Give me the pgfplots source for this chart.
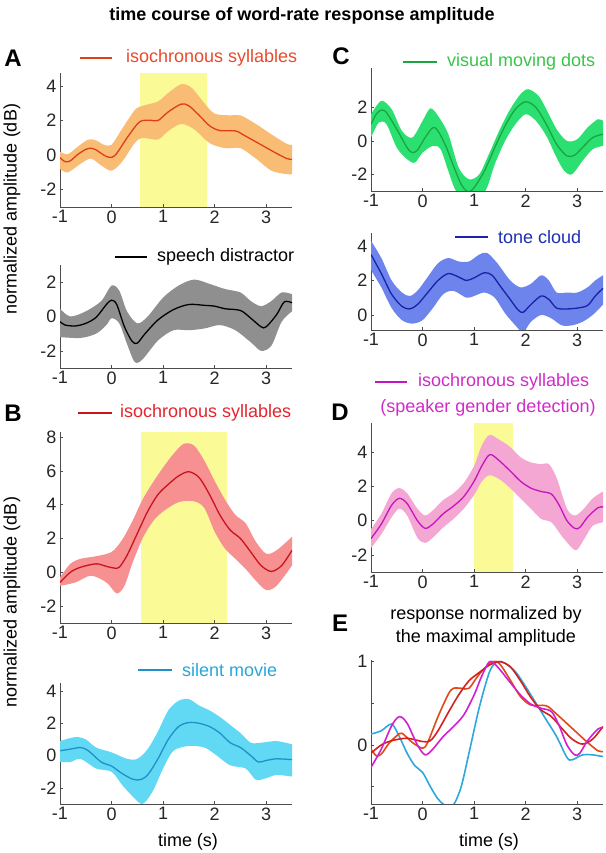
\documentclass[border=0pt]{standalone}
\usepackage{pgfplots}
\pgfplotsset{compat=1.18}
\usepgfplotslibrary{fillbetween}
\usepackage{fontspec}
\setmainfont{Liberation Sans}
\newcommand\fs{\fontsize{18}{21}\selectfont}
\newcommand\fl{\fontsize{24}{27}\selectfont\bfseries}
\definecolor{ybox}{HTML}{FAFA96}
\definecolor{aband}{HTML}{F8BC74}
\definecolor{aline}{HTML}{DE3F17}
\definecolor{atext}{HTML}{E84A2A}
\definecolor{gband}{HTML}{8F8F8F}
\definecolor{bband}{HTML}{F79090}
\definecolor{bline}{HTML}{C8141E}
\definecolor{btext}{HTML}{E2252E}
\definecolor{cband}{HTML}{62D9F4}
\definecolor{cline}{HTML}{2090C8}
\definecolor{ctext}{HTML}{26A7DA}
\definecolor{vband}{HTML}{2BE070}
\definecolor{vline}{HTML}{1BA540}
\definecolor{vtext}{HTML}{36C54A}
\definecolor{tband}{HTML}{6C84EC}
\definecolor{tline}{HTML}{1A22A8}
\definecolor{ttext}{HTML}{1E2FB0}
\definecolor{pband}{HTML}{F5A7D3}
\definecolor{pline}{HTML}{C515C0}
\definecolor{ptext}{HTML}{D02BC8}
\definecolor{ecyan}{HTML}{2EA8DC}
\definecolor{ered}{HTML}{D42020}
\definecolor{eorange}{HTML}{DF4A18}
\definecolor{emag}{HTML}{D020D0}
\pgfplotsset{
  panel/.style={scale only axis, width=232pt, anchor=south west,
    xmin=-1, xmax=3.5, axis x line=bottom, axis y line=left,
    axis line style={-, draw=black!70, line width=0.8pt},
    tick align=inside, major tick length=3pt,
    tick style={draw=black!70, line width=0.6pt},
    xtick={-1,0,1,2,3}, xticklabels={-1,0,1,2,3},
    tick label style={font=\fs, text=black!85}},
  mean/.style={smooth, line width=1.3pt, no marks},
  bnd/.style={smooth, draw=none, no marks},
  yb/.style={fill=ybox, draw=none, on layer=axis background},
}
\begin{document}
\begin{tikzpicture}
% ---------- A1
\begin{axis}[panel, at={(60pt,646pt)}, height=134pt, ymin=-3, ymax=4.75,
  ytick={-2,0,2,4}, yticklabels={-2,0,2,4}]
\addplot[yb] coordinates {(0.55,-3) (1.85,-3) (1.85,4.75) (0.55,4.75)} -- cycle;
\addplot[bnd, name path=u] coordinates {(-1,0.2) (-0.85,0.05) (-0.65,0.5) (-0.45,0.9) (-0.3,0.85) (-0.15,0.6) (0,0.6) (0.2,1.5) (0.45,2.6) (0.6,2.85) (0.9,3.1) (1.1,3.6) (1.35,4.1) (1.55,3.9) (1.8,3.0) (2.0,2.4) (2.3,2.3) (2.5,2.3) (2.8,1.8) (3.1,1.2) (3.4,0.65) (3.5,0.6)};
\addplot[bnd, name path=l] coordinates {(-1,-0.8) (-0.85,-1.0) (-0.6,-0.5) (-0.4,-0.2) (-0.2,-0.6) (0,-0.9) (0.2,-0.4) (0.45,0.7) (0.6,1.0) (0.9,0.9) (1.1,1.4) (1.35,1.8) (1.6,1.5) (1.9,0.7) (2.2,0.4) (2.5,0.4) (2.8,-0.2) (3.1,-0.9) (3.4,-1.1) (3.5,-1.1)};
\addplot[aband] fill between[of=u and l];
\addplot[mean, aline] coordinates {(-1,-0.15) (-0.9,-0.38) (-0.8,-0.33) (-0.65,0.05) (-0.5,0.33) (-0.4,0.4) (-0.3,0.3) (-0.2,0.1) (-0.1,-0.08) (0,-0.13) (0.1,0.1) (0.3,1.0) (0.5,1.8) (0.6,2.0) (0.75,2.02) (0.9,2.0) (1.1,2.5) (1.35,2.95) (1.5,2.85) (1.7,2.3) (1.9,1.7) (2.1,1.42) (2.4,1.4) (2.6,1.1) (2.9,0.6) (3.2,0.1) (3.4,-0.2) (3.5,-0.25)};
\end{axis}
% ---------- A2
\begin{axis}[panel, at={(60pt,485pt)}, height=103pt, ymin=-3, ymax=3,
  ytick={-2,0,2}, yticklabels={-2,0,2}]
\addplot[bnd, name path=u] coordinates {(-1,0.45) (-0.8,0.0) (-0.5,0.3) (-0.2,0.9) (0,1.8) (0.15,1.5) (0.3,0.3) (0.5,-0.4) (0.7,0.0) (1.0,1.1) (1.3,1.8) (1.6,2.15) (1.9,1.9) (2.2,1.6) (2.5,1.4) (2.7,0.9) (2.9,0.6) (3.1,0.9) (3.3,1.4) (3.5,1.3)};
\addplot[bnd, name path=l] coordinates {(-1,-1.2) (-0.6,-1.25) (-0.3,-1.0) (-0.1,-0.5) (0,-0.1) (0.15,-0.4) (0.3,-1.6) (0.45,-2.65) (0.6,-2.5) (0.9,-1.4) (1.2,-0.8) (1.5,-0.8) (1.8,-0.7) (2.1,-0.5) (2.4,-0.8) (2.7,-1.5) (2.9,-2.0) (3.1,-1.7) (3.3,-0.3) (3.5,0.3)};
\addplot[gband] fill between[of=u and l];
\addplot[mean, black] coordinates {(-1,-0.3) (-0.9,-0.5) (-0.7,-0.55) (-0.5,-0.4) (-0.3,-0.05) (-0.1,0.7) (0,0.95) (0.1,0.7) (0.25,-0.6) (0.4,-1.45) (0.5,-1.55) (0.65,-1.0) (0.9,-0.2) (1.2,0.4) (1.5,0.7) (1.8,0.65) (2.0,0.6) (2.2,0.45) (2.5,0.35) (2.7,-0.1) (2.9,-0.6) (3.0,-0.6) (3.2,0.1) (3.35,0.85) (3.5,0.8)};
\end{axis}
% ---------- B1
\begin{axis}[panel, at={(60pt,230pt)}, height=191pt, ymin=-3, ymax=8.3,
  ytick={-2,0,2,4,6,8}, yticklabels={-2,0,2,4,6,8}]
\addplot[yb] coordinates {(0.58,-3) (2.24,-3) (2.24,8.3) (0.58,8.3)} -- cycle;
\addplot[bnd, name path=u] coordinates {(-1,-0.3) (-0.8,0.5) (-0.6,0.8) (-0.3,0.95) (0,1.2) (0.2,1.9) (0.4,3.0) (0.6,4.3) (0.8,5.3) (1.0,6.2) (1.2,7.0) (1.4,7.6) (1.6,7.5) (1.8,6.6) (2.0,5.4) (2.2,4.3) (2.4,3.4) (2.6,2.9) (2.8,1.8) (3.0,1.1) (3.2,1.3) (3.5,2.1)};
\addplot[bnd, name path=l] coordinates {(-1,-0.8) (-0.7,-0.6) (-0.4,-0.2) (-0.1,-0.6) (0.1,-1.25) (0.25,-0.8) (0.4,0.5) (0.6,2.0) (0.8,3.0) (1.0,3.6) (1.3,4.15) (1.6,4.2) (1.8,3.8) (2.0,2.4) (2.2,1.4) (2.4,0.8) (2.6,0.2) (2.8,-0.5) (3.0,-1.05) (3.2,-0.8) (3.5,0.4)};
\addplot[bband] fill between[of=u and l];
\addplot[mean, bline] coordinates {(-1,-0.6) (-0.8,0.0) (-0.6,0.3) (-0.3,0.5) (-0.1,0.35) (0.05,0.25) (0.15,0.3) (0.3,1.0) (0.5,2.3) (0.7,3.6) (0.9,4.6) (1.1,5.2) (1.3,5.7) (1.5,5.95) (1.7,5.6) (1.9,4.6) (2.1,3.4) (2.3,2.5) (2.5,2.0) (2.7,1.2) (2.9,0.4) (3.1,0.05) (3.3,0.4) (3.5,1.3)};
\end{axis}
% ---------- B2
\begin{axis}[panel, at={(60pt,49pt)}, height=121pt, ymin=-3, ymax=4.5,
  ytick={-2,0,2,4}, yticklabels={-2,0,2,4}]
\addplot[bnd, name path=u] coordinates {(-1,0.9) (-0.7,1.15) (-0.5,1.0) (-0.3,0.5) (0,0.2) (0.3,-0.2) (0.5,-0.2) (0.7,0.4) (0.9,1.5) (1.1,2.8) (1.3,3.4) (1.5,3.5) (1.7,3.1) (1.9,2.8) (2.1,2.4) (2.3,1.9) (2.5,1.4) (2.7,0.8) (2.9,0.8) (3.2,0.9) (3.5,0.7)};
\addplot[bnd, name path=l] coordinates {(-1,-0.4) (-0.8,-0.4) (-0.6,-0.2) (-0.3,-0.8) (0,-1.0) (0.2,-1.8) (0.4,-2.5) (0.6,-3.0) (0.8,-2.2) (1.0,-0.8) (1.2,0.3) (1.5,0.6) (1.8,0.5) (2.0,0.1) (2.3,-0.6) (2.6,-0.8) (2.8,-1.5) (3.0,-1.4) (3.2,-1.2) (3.5,-1.3)};
\addplot[cband] fill between[of=u and l];
\addplot[mean, cline] coordinates {(-1,0.3) (-0.8,0.4) (-0.6,0.5) (-0.45,0.3) (-0.2,-0.4) (0,-0.65) (0.2,-1.1) (0.4,-1.45) (0.55,-1.5) (0.7,-1.2) (0.9,-0.2) (1.1,1.0) (1.3,1.8) (1.5,2.05) (1.7,2.0) (1.9,1.8) (2.1,1.4) (2.3,0.8) (2.5,0.5) (2.7,0.0) (2.85,-0.4) (3.0,-0.3) (3.2,-0.2) (3.5,-0.25)};
\end{axis}
% ---------- C1
\begin{axis}[panel, at={(371pt,662pt)}, height=123pt, ymin=-3, ymax=4.37,
  ytick={-2,0,2}, yticklabels={-2,0,2}]
\addplot[bnd, name path=u] coordinates {(-1,1.6) (-0.8,2.4) (-0.6,1.9) (-0.4,0.6) (-0.2,0.2) (0.0,1.2) (0.15,1.95) (0.3,1.5) (0.5,0.4) (0.7,-1.6) (0.9,-2.3) (1.1,-2.0) (1.3,-0.7) (1.5,0.7) (1.7,1.9) (1.9,2.8) (2.05,3.1) (2.25,2.7) (2.4,1.9) (2.6,0.7) (2.8,0.0) (3.0,0.1) (3.2,0.8) (3.4,1.3) (3.5,1.2)};
\addplot[bnd, name path=l] coordinates {(-1,0.2) (-0.85,1.1) (-0.7,1.0) (-0.5,-0.4) (-0.3,-1.1) (-0.15,-1.3) (0.0,-0.7) (0.2,-0.3) (0.35,-0.5) (0.5,-1.8) (0.65,-3.0) (0.9,-3.6) (1.1,-3.5) (1.25,-2.8) (1.4,-1.4) (1.6,0.0) (1.8,1.0) (2.0,1.6) (2.2,1.2) (2.4,0.3) (2.6,-1.0) (2.75,-1.8) (2.9,-2.0) (3.1,-1.2) (3.3,-0.5) (3.5,-0.3)};
\addplot[vband] fill between[of=u and l];
\addplot[mean, vline] coordinates {(-1,1.0) (-0.9,1.6) (-0.8,1.85) (-0.7,1.7) (-0.5,0.7) (-0.3,-0.4) (-0.2,-0.7) (-0.1,-0.55) (0.05,0.2) (0.2,0.8) (0.3,0.6) (0.45,-0.3) (0.6,-1.5) (0.75,-2.6) (0.88,-3.05) (1.0,-2.8) (1.2,-1.8) (1.4,-0.4) (1.6,0.9) (1.8,1.9) (2.0,2.35) (2.2,2.0) (2.4,1.0) (2.6,-0.2) (2.8,-0.9) (2.95,-0.85) (3.1,-0.4) (3.3,0.2) (3.5,0.4)};
\end{axis}
% ---------- C2
\begin{axis}[panel, at={(371pt,523pt)}, height=97pt, ymin=-0.87, ymax=4.75,
  ytick={0,2,4}, yticklabels={0,2,4}]
\addplot[bnd, name path=u] coordinates {(-1,4.3) (-0.8,3.3) (-0.6,2.0) (-0.4,1.3) (-0.25,1.1) (-0.1,1.4) (0.1,2.2) (0.3,3.0) (0.5,3.3) (0.7,3.1) (0.9,3.1) (1.1,3.5) (1.25,3.6) (1.45,3.0) (1.7,2.0) (1.9,1.6) (2.1,1.8) (2.3,2.3) (2.45,2.0) (2.6,1.3) (2.8,1.3) (3.0,1.3) (3.2,1.6) (3.35,2.0) (3.5,2.3)};
\addplot[bnd, name path=l] coordinates {(-1,2.6) (-0.8,1.6) (-0.6,0.4) (-0.4,-0.3) (-0.2,-0.5) (0.0,-0.3) (0.2,0.4) (0.4,1.2) (0.6,1.4) (0.85,1.0) (1.0,1.1) (1.2,1.3) (1.4,1.0) (1.6,0.1) (1.8,-0.6) (1.95,-1.0) (2.1,-0.4) (2.3,0.0) (2.5,-0.2) (2.7,-0.6) (2.9,-0.6) (3.1,-0.4) (3.3,0.0) (3.5,0.6)};
\addplot[tband] fill between[of=u and l];
\addplot[mean, tline] coordinates {(-1,3.5) (-0.8,2.4) (-0.6,1.2) (-0.4,0.5) (-0.25,0.35) (-0.1,0.6) (0.1,1.3) (0.3,2.0) (0.5,2.4) (0.7,2.2) (0.85,2.0) (1.0,2.15) (1.2,2.45) (1.35,2.3) (1.5,1.7) (1.7,0.9) (1.85,0.3) (1.95,0.15) (2.1,0.6) (2.3,1.1) (2.45,0.9) (2.6,0.4) (2.8,0.35) (3.0,0.4) (3.2,0.55) (3.35,1.1) (3.5,1.55)};
\end{axis}
% ---------- D
\begin{axis}[panel, at={(371pt,281pt)}, height=149pt, ymin=-3, ymax=5.7,
  ytick={-2,0,2,4}, yticklabels={-2,0,2,4}]
\addplot[yb] coordinates {(1.0,-3) (1.75,-3) (1.75,5.7) (1.0,5.7)} -- cycle;
\addplot[bnd, name path=u] coordinates {(-1,-0.5) (-0.8,0.4) (-0.6,1.6) (-0.45,1.9) (-0.3,1.6) (-0.1,0.7) (0.05,0.3) (0.2,0.6) (0.4,1.2) (0.6,1.6) (0.8,2.2) (1.0,3.2) (1.15,4.4) (1.3,5.0) (1.5,4.7) (1.7,4.3) (1.9,3.7) (2.1,3.4) (2.3,3.3) (2.45,3.3) (2.6,2.5) (2.8,0.7) (2.95,0.3) (3.1,0.6) (3.3,1.3) (3.5,1.7)};
\addplot[bnd, name path=l] coordinates {(-1,-1.6) (-0.8,-0.8) (-0.6,0.2) (-0.45,0.7) (-0.3,0.3) (-0.1,-1.0) (0.05,-1.3) (0.2,-1.0) (0.4,-0.4) (0.6,0.1) (0.8,0.7) (1.0,1.5) (1.15,2.3) (1.3,2.65) (1.5,2.4) (1.7,1.9) (1.9,1.3) (2.1,0.7) (2.3,0.1) (2.5,-0.1) (2.7,-0.9) (2.9,-1.6) (3.0,-1.7) (3.15,-1.0) (3.3,-0.3) (3.5,-0.1)};
\addplot[pband] fill between[of=u and l];
\addplot[mean, pline] coordinates {(-1,-1.05) (-0.8,-0.2) (-0.6,0.9) (-0.45,1.3) (-0.3,1.0) (-0.1,0.0) (0.05,-0.45) (0.2,-0.2) (0.4,0.4) (0.6,0.85) (0.8,1.4) (1.0,2.3) (1.15,3.2) (1.3,3.85) (1.45,3.6) (1.7,2.9) (1.9,2.3) (2.1,1.9) (2.3,1.7) (2.5,1.55) (2.65,0.9) (2.8,0.0) (2.95,-0.45) (3.05,-0.4) (3.2,0.2) (3.4,0.75) (3.5,0.8)};
\end{axis}
% ---------- E
\begin{axis}[panel, at={(371pt,49pt)}, height=144pt, ymin=-0.71, ymax=1.02,
  ytick={-0.5,0,0.5,1}, yticklabels={,0,,1}]
\addplot[mean, ecyan, line width=1.6pt] coordinates {(-1,0.13) (-0.8,0.17) (-0.6,0.25) (-0.45,0.1) (-0.3,-0.1) (-0.15,-0.25) (0,-0.33) (0.15,-0.5) (0.3,-0.65) (0.45,-0.73) (0.6,-0.72) (0.75,-0.5) (0.9,-0.1) (1.1,0.45) (1.3,0.88) (1.45,1.0) (1.6,0.98) (1.8,0.88) (2.0,0.7) (2.2,0.5) (2.4,0.3) (2.6,0.1) (2.8,-0.15) (2.9,-0.18) (3.1,-0.12) (3.3,-0.12) (3.5,-0.14)};
\addplot[mean, eorange, line width=1.6pt] coordinates {(-1,-0.05) (-0.9,-0.13) (-0.8,-0.11) (-0.65,0.02) (-0.5,0.11) (-0.4,0.14) (-0.2,0.03) (0,-0.04) (0.1,0.03) (0.3,0.34) (0.5,0.61) (0.6,0.68) (0.75,0.68) (0.9,0.68) (1.1,0.85) (1.35,1.0) (1.5,0.97) (1.7,0.78) (1.9,0.58) (2.1,0.48) (2.4,0.47) (2.6,0.37) (2.9,0.2) (3.2,0.03) (3.4,-0.07) (3.5,-0.08)};
\addplot[mean, ered, line width=1.6pt] coordinates {(-1,-0.1) (-0.8,0.0) (-0.6,0.05) (-0.3,0.08) (0,0.04) (0.15,0.05) (0.3,0.17) (0.5,0.39) (0.7,0.6) (0.9,0.77) (1.1,0.87) (1.3,0.96) (1.5,1.0) (1.7,0.94) (1.9,0.77) (2.1,0.57) (2.3,0.42) (2.5,0.34) (2.7,0.2) (2.9,0.07) (3.1,0.01) (3.3,0.07) (3.5,0.22)};
\addplot[mean, emag, line width=1.6pt] coordinates {(-1,-0.27) (-0.8,-0.05) (-0.6,0.23) (-0.45,0.34) (-0.3,0.26) (-0.1,0.0) (0.05,-0.12) (0.2,-0.05) (0.4,0.1) (0.6,0.22) (0.8,0.36) (1.0,0.6) (1.15,0.83) (1.3,1.0) (1.45,0.94) (1.7,0.75) (1.9,0.6) (2.1,0.49) (2.3,0.44) (2.5,0.4) (2.65,0.23) (2.8,0.0) (2.95,-0.12) (3.05,-0.1) (3.2,0.05) (3.4,0.19) (3.5,0.21)};
\end{axis}
% ---------- texts
\node[font=\fs\bfseries] at (302pt,837pt) {time course of word-rate response amplitude};
\node[font=\fl] at (13pt,795pt) {A};
\node[font=\fl] at (13pt,440pt) {B};
\node[font=\fl] at (341pt,797pt) {C};
\node[font=\fl] at (340pt,441pt) {D};
\node[font=\fl] at (340pt,230pt) {E};
\node[font=\fs, rotate=90] at (12pt,644pt) {normalized amplitude (dB)};
\node[font=\fs, rotate=90] at (12pt,251pt) {normalized amplitude (dB)};
\node[font=\fs] at (188pt,11pt) {time (s)};
\node[font=\fs] at (489pt,11pt) {time (s)};
% legends
\draw[aline, line width=1.6pt] (80pt,795pt) -- (112pt,795pt);
\node[font=\fs, text=atext, anchor=west, inner sep=0] at (126pt,795pt) {isochronous syllables};
\draw[black, line width=1.6pt] (115pt,596pt) -- (147pt,596pt);
\node[font=\fs, anchor=west, inner sep=0] at (157pt,596pt) {speech distractor};
\draw[bline, line width=1.6pt] (78pt,440pt) -- (112pt,440pt);
\node[font=\fs, text=btext, anchor=west, inner sep=0] at (120pt,440pt) {isochronous syllables};
\draw[cline, line width=1.6pt] (138pt,183pt) -- (172pt,183pt);
\node[font=\fs, text=ctext, anchor=west, inner sep=0] at (182pt,183pt) {silent movie};
\draw[vline, line width=1.6pt] (403pt,791pt) -- (437pt,791pt);
\node[font=\fs, text=vtext, anchor=west, inner sep=0] at (447pt,791pt) {visual moving dots};
\draw[tline, line width=1.6pt] (455pt,616pt) -- (488pt,616pt);
\node[font=\fs, text=ttext, anchor=west, inner sep=0] at (498pt,616pt) {tone cloud};
\draw[pline, line width=1.6pt] (375pt,471pt) -- (407pt,471pt);
\node[font=\fs, text=ptext, anchor=west, inner sep=0] at (418pt,471pt) {isochronous syllables};
\node[font=\fs, text=ptext, inner sep=0] at (488pt,445pt) {(speaker gender detection)};
\node[font=\fs, inner sep=0] at (486pt,238pt) {response normalized by};
\node[font=\fs, inner sep=0] at (486pt,215pt) {the maximal amplitude};
\pgfresetboundingbox
\path[use as bounding box] (0,0) rectangle (605pt,853pt);
\end{tikzpicture}
\end{document}
